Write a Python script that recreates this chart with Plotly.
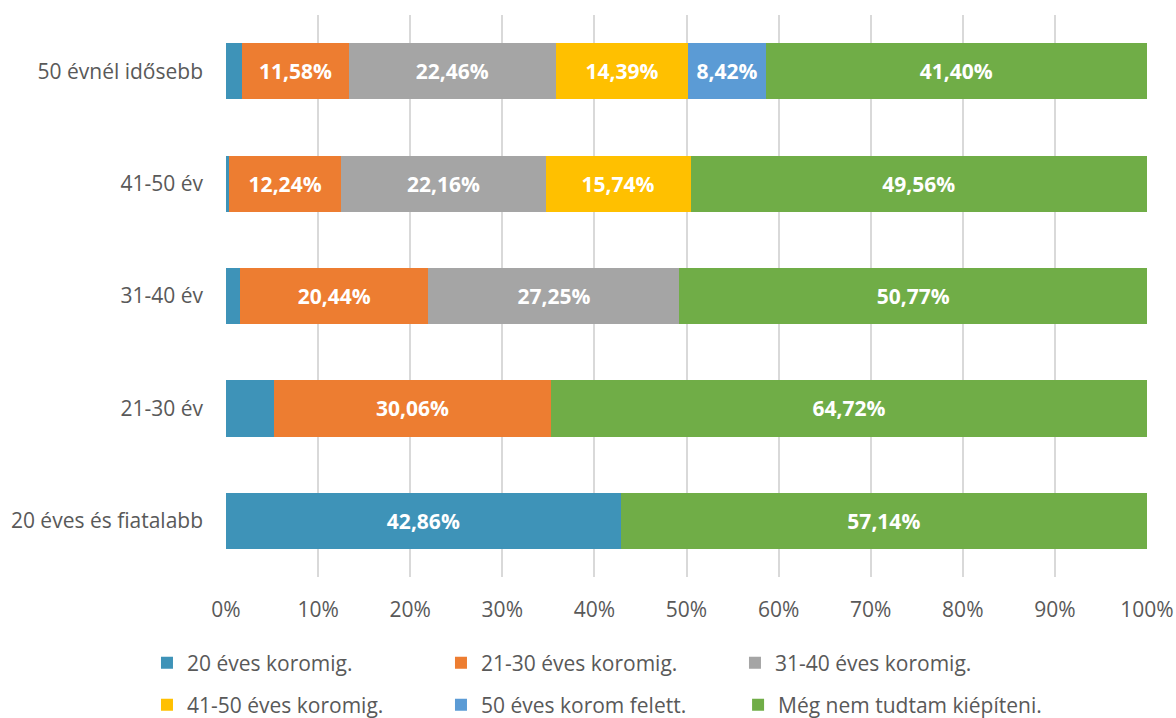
import plotly.graph_objects as go

categories = ["20 éves és fiatalabb", "21-30 év", "31-40 év", "41-50 év", "50 évnél idősebb"]
series_names = ["20 éves koromig.", "21-30 éves koromig.", "31-40 éves koromig.",
                "41-50 éves koromig.", "50 éves korom felett.", "Még nem tudtam kiépíteni."]
s20 = [42.86, 5.22, 1.54, 0.30, 1.75]
s2130 = [0, 30.06, 20.44, 12.24, 11.58]
s3140 = [0, 0, 27.25, 22.16, 22.46]
s4150 = [0, 0, 0, 15.74, 14.39]
s50 = [0, 0, 0, 0, 8.42]
snem = [57.14, 64.72, 50.77, 49.56, 41.40]
colors = ["#3E93B8", "#ED7D31", "#A5A5A5", "#FFC000", "#5B9BD5", "#70AD47"]
tick_vals = [0, 10, 20, 30, 40, 50, 60, 70, 80, 90, 100]

FONT = "Open Sans"
FS = 21
legend_ids = ["legend", "legend", "legend", "legend2", "legend2", "legend3"]
fig = go.Figure()
for i, (name, vals, col) in enumerate(zip(series_names, [s20, s2130, s3140, s4150, s50, snem], colors)):
    texts = [(f"{v:.2f}".replace(".", ",") + "%") if v >= 8 else "" for v in vals]
    fig.add_trace(go.Bar(
        y=categories, x=vals, name=name, orientation="h",
        marker=dict(color=col, line=dict(width=0)),
        text=texts, textposition="inside", insidetextanchor="middle",
        textfont=dict(color="white", size=FS, family=FONT),
        texttemplate="<b>%{text}</b>", cliponaxis=False,
        hoverinfo="x+name",
        legend=legend_ids[i],
    ))

leg_common = dict(orientation="h", xanchor="left", yanchor="middle",
                  traceorder="normal",
                  font=dict(size=FS, color="#595959", family=FONT), itemwidth=30,
                  bgcolor="rgba(0,0,0,0)")

fig.update_layout(
    barmode="stack", bargap=0.5,
    width=1176, height=718,
    margin=dict(l=226, r=29, t=15, b=141, autoexpand=False),
    plot_bgcolor="white", paper_bgcolor="white",
    font=dict(family=FONT, size=FS, color="#595959"),
    uniformtext=dict(mode="show", minsize=10),
    xaxis=dict(range=[0, 100], tickvals=tick_vals, ticktext=[f"{t}%" for t in tick_vals],
               showgrid=True, gridcolor="#D9D9D9", gridwidth=1.5, zeroline=False,
               showline=False, tickfont=dict(size=FS, color="#595959"), ticks="",
               ticklabelstandoff=18, automargin=False),
    yaxis=dict(showgrid=False, zeroline=False, showline=False, ticks="",
               tickfont=dict(size=FS, color="#595959"), ticklabelstandoff=22,
               automargin=False),
    legend=dict(x=-0.0858, y=-0.153, entrywidth=249, entrywidthmode="pixels", **leg_common),
    legend2=dict(x=-0.0858, y=-0.228, entrywidth=249, entrywidthmode="pixels", **leg_common),
    legend3=dict(x=0.556, y=-0.228, **leg_common),
    showlegend=True,
)

fig.write_html("out.html", config={"displayModeBar": False},
               post_script="document.body.style.margin='0';document.body.style.overflow='hidden';")
